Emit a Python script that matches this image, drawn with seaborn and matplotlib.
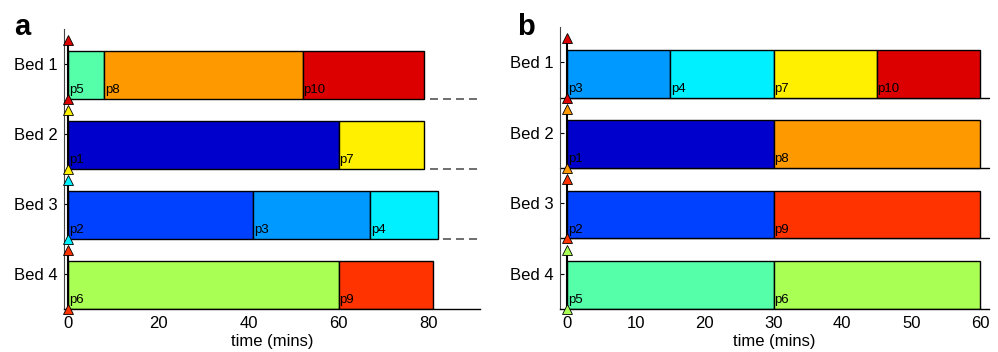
import matplotlib
matplotlib.use("Agg")
import matplotlib.pyplot as plt
import seaborn as sns

# Patient colours (jet-like)
patient_colors = {
    "p1": "#0000CC", "p2": "#0040FF", "p3": "#0099FF", "p4": "#00F0FF",
    "p5": "#55FFAA", "p6": "#AAFF55", "p7": "#FFF000", "p8": "#FF9900",
    "p9": "#FF3300", "p10": "#DD0000",
}

beds = ["Bed 1", "Bed 2", "Bed 3", "Bed 4"]

# Schedule a: (patient, start, end) per bed
sched_a_bed1 = [("p5", 0, 8), ("p8", 8, 52), ("p10", 52, 79)]
sched_a_bed2 = [("p1", 0, 60), ("p7", 60, 79)]
sched_a_bed3 = [("p2", 0, 41), ("p3", 41, 67), ("p4", 67, 82)]
sched_a_bed4 = [("p6", 0, 60), ("p9", 60, 81)]

# Schedule b
sched_b_bed1 = [("p3", 0, 15), ("p4", 15, 30), ("p7", 30, 45), ("p10", 45, 60)]
sched_b_bed2 = [("p1", 0, 30), ("p8", 30, 60)]
sched_b_bed3 = [("p2", 0, 30), ("p9", 30, 60)]
sched_b_bed4 = [("p5", 0, 30), ("p6", 30, 60)]

xticks_a = [0, 20, 40, 60, 80]
xticks_b = [0, 10, 20, 30, 40, 50, 60]

sns.set_style("white")
plt.rcParams["font.family"] = ["Liberation Sans", "DejaVu Sans"]
plt.rcParams["text.color"] = "black"
plt.rcParams["axes.labelcolor"] = "black"
plt.rcParams["xtick.color"] = "black"
plt.rcParams["ytick.color"] = "black"

fig = plt.figure(figsize=(9.98, 3.52), dpi=100)
ax_a = fig.add_axes([0.0646, 0.1222, 0.4163, 0.7955])
ax_b = fig.add_axes([0.5616, 0.1222, 0.4294, 0.8010])


def draw_panel(ax, schedule, xlim, xticks, dashed):
    bar_top = 0.32
    for i, segs in enumerate(schedule):
        bottom = i + 1
        for name, s, e in segs:
            ax.barh(bottom - (1 - bar_top) / 2, e - s, left=s, height=1 - bar_top,
                    color=patient_colors[name], edgecolor="black", linewidth=1.0,
                    zorder=2)
            ax.text(s + 0.002 * (xlim[1] - xlim[0]), bottom - 0.04, name,
                    fontsize=9.5, color="black", ha="left", va="bottom", zorder=4)
        end = segs[-1][2]
        last_col = patient_colors[segs[-1][0]]
        # vertical start line + triangles
        ax.plot([0, 0], [i + 0.16, bottom], color="black", lw=1.5, zorder=3)
        ax.plot([0, 0], [i + 0.16, bottom], linestyle="none", marker="^",
                markersize=6.5, markerfacecolor=last_col, markeredgecolor="black",
                markeredgewidth=0.6, zorder=5, clip_on=False)
        if i < len(schedule) - 1:
            if dashed:
                ax.plot([end + 1.2, xlim[1]], [bottom, bottom], color="#555555",
                        lw=1.2, dashes=(4.8, 3), zorder=1, clip_on=False)
            else:
                ax.plot([xlim[0], xlim[1]], [bottom, bottom], color="black",
                        lw=1.0, zorder=1, clip_on=False)
    ax.set_xlim(*xlim)
    ax.set_ylim(len(schedule), 0)
    ax.set_yticks([i + 0.5 for i in range(len(schedule))])
    ax.set_yticklabels(beds)
    ax.set_xticks(xticks)
    ax.set_xlabel("time (mins)", fontsize=12, labelpad=2)
    ax.tick_params(axis="both", direction="in", length=3, labelsize=12,
                   left=True, bottom=True, pad=5)
    sns.despine(ax=ax, top=True, right=True)
    ax.spines["left"].set_color("#444444")
    ax.spines["left"].set_linewidth(0.8)
    ax.spines["bottom"].set_color("black")
    ax.spines["bottom"].set_linewidth(1.0)


draw_panel(ax_a, [sched_a_bed1, sched_a_bed2, sched_a_bed3, sched_a_bed4],
           (-0.78, 91.3), xticks_a, dashed=True)
draw_panel(ax_b, [sched_b_bed1, sched_b_bed2, sched_b_bed3, sched_b_bed4],
           (-0.94, 61.3), xticks_b, dashed=False)

fig.text(0.014, 0.90, "a", fontsize=21, fontweight="bold", ha="left", va="baseline")
fig.text(0.518, 0.90, "b", fontsize=21, fontweight="bold", ha="left", va="baseline")

fig.savefig("out.png", dpi=100)
